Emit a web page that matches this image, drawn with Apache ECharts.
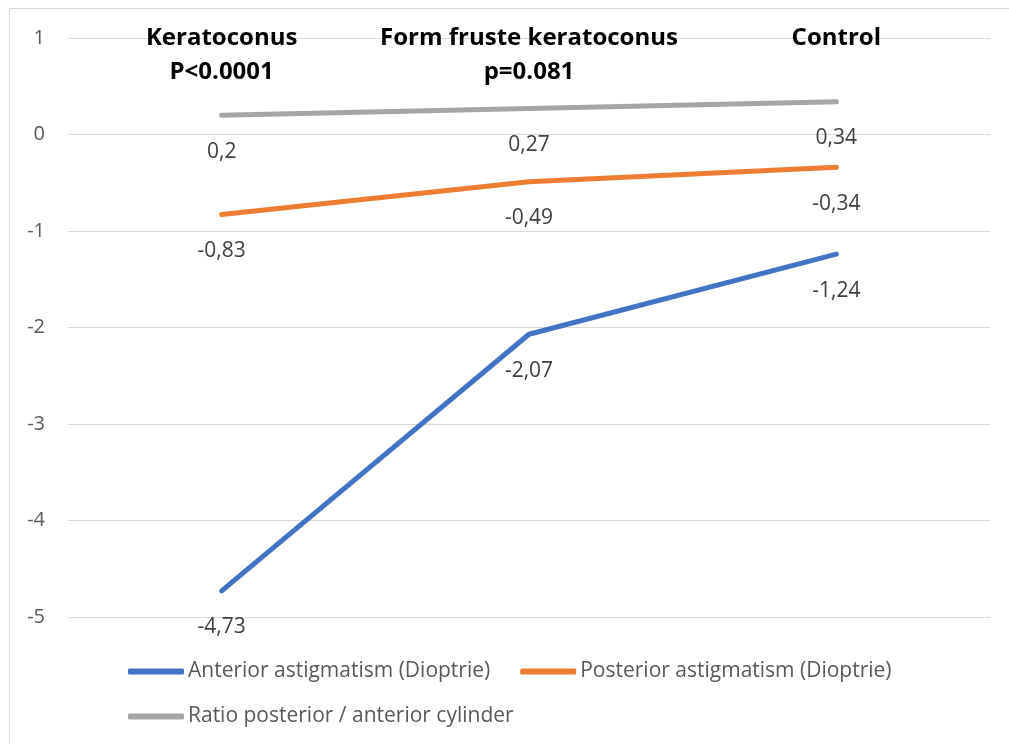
<!DOCTYPE html>
<html>
<head>
<meta charset="utf-8">
<style>
  html, body { margin: 0; padding: 0; background: #fff; }
  #chart { width: 1009px; height: 744px; }
</style>
<script src="https://cdn.jsdelivr.net/npm/echarts@6/dist/echarts.min.js"></script>
</head>
<body>
<div id="chart"></div>
<script>
// categories shown along the top of the plot
const categories = ['Keratoconus\nP<0.0001', 'Form fruste keratoconus\np=0.081', 'Control']
const seriesNames = [
  'Anterior astigmatism (Dioptrie)',
  'Posterior astigmatism (Dioptrie)',
  'Ratio posterior / anterior cylinder'
]
const anterior = [-4.73, -2.07, -1.24]
const posterior = [-0.83, -0.49, -0.34]
const ratio = [0.2, 0.27, 0.34]
const yTicks = { min: -5, max: 1, interval: 1 }

const colors = ['#4472C4', '#ED7D31', '#A5A5A5']
const font = 'Open Sans'

function lineSeries(name, data, color) {
  return {
    name: name,
    type: 'line',
    data: data,
    symbol: 'circle',
    symbolSize: 2,
    color: color,
    lineStyle: { width: 5, color: color, cap: 'round' },
    itemStyle: { color: color },
    label: {
      show: true,
      position: 'bottom',
      distance: 25,
      color: '#404040',
      fontFamily: font,
      fontSize: 21,
      formatter: p => String(p.value).replace('.', ',')
    },
    emphasis: { disabled: true },
    animation: false
  }
}

const legendBase = {
  left: 128,
  padding: 0,
  itemWidth: 56,
  itemHeight: 6,
  itemGap: 30,
  icon: 'roundRect',
  textStyle: { color: '#595959', fontFamily: font, fontSize: 21, padding: [0, 0, 0, -1] }
}

const chart = echarts.init(document.getElementById('chart'))
const option = {
  backgroundColor: '#fff',
  animation: false,
  graphic: [{
    type: 'rect',
    shape: { x: 9.5, y: 8.5, width: 1010, height: 740 },
    style: { fill: 'none', stroke: '#d9d9d9', lineWidth: 1 },
    silent: true
  }],
  grid: { left: 68, right: 19, top: 38, bottom: 127 },
  legend: [
    Object.assign({}, legendBase, { top: 661, data: [seriesNames[0], seriesNames[1]] }),
    Object.assign({}, legendBase, { top: 706, data: [seriesNames[2]] })
  ],
  xAxis: {
    type: 'category',
    position: 'top',
    data: categories,
    boundaryGap: true,
    axisLine: { show: false },
    axisTick: { show: false },
    axisLabel: {
      interval: 0,
      margin: 17,
      verticalAlign: 'top',
      lineHeight: 34,
      color: '#000',
      fontWeight: 'bold',
      fontFamily: font,
      fontSize: 24
    }
  },
  yAxis: {
    type: 'value',
    min: yTicks.min,
    max: yTicks.max,
    interval: yTicks.interval,
    axisLine: { show: false },
    axisTick: { show: false },
    axisLabel: { margin: 23, color: '#595959', fontFamily: font, fontSize: 20 },
    splitLine: { lineStyle: { color: '#d9d9d9', width: 1 } }
  },
  series: [
    lineSeries(seriesNames[0], anterior, colors[0]),
    lineSeries(seriesNames[1], posterior, colors[1]),
    lineSeries(seriesNames[2], ratio, colors[2])
  ]
}
chart.setOption(option)
</script>
</body>
</html>
